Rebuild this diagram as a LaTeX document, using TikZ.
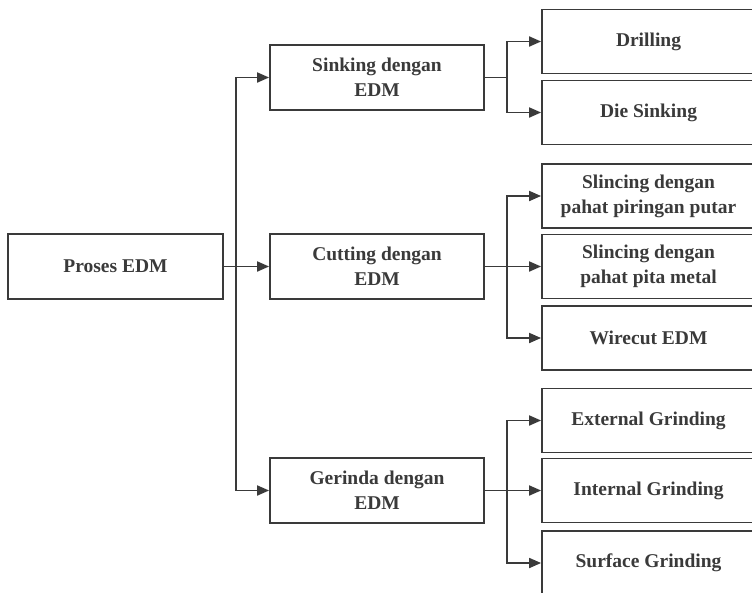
\documentclass[tikz,border=0pt]{standalone}
\usepackage{fontspec}
\setmainfont{Liberation Serif}
\usetikzlibrary{arrows.meta}
\definecolor{edmgray}{RGB}{58,58,58}
\tikzstyle{box} = [draw=edmgray, line width=1.8pt, align=center, inner sep=0pt, text=edmgray, font=\bfseries\fontsize{19.5}{25}\selectfont]
\tikzstyle{mainbox} = [box, minimum width=214pt, minimum height=65pt]
\tikzstyle{leaf} = [box, minimum width=213pt, minimum height=64pt]
\tikzstyle{edmarrow} = [draw=edmgray, line width=1.8pt, -{Triangle[length=12pt,width=10pt]}]

\begin{document}
\begin{tikzpicture}[x=1pt,y=-1pt]
\clip (0,0) rectangle (752,592);

% Root
\node[mainbox, minimum width=215pt] (proses) at (115.5,266.5) {Proses EDM};

% Second level
\node[mainbox] (sinking) at (377,77.5) {Sinking dengan\\EDM};
\node[mainbox] (cutting) at (377,266.5) {Cutting dengan\\EDM};
\node[mainbox] (gerinda) at (377,490.5) {Gerinda dengan\\EDM};

% Leaves
\node[leaf] (drilling) at (648.5,41.5) {Drilling};
\node[leaf] (diesinking) at (648.5,112.5) {Die Sinking};
\node[leaf] (slincingA) at (648.5,196) {Slincing dengan\\pahat piringan putar};
\node[leaf] (slincingB) at (648.5,266.5) {Slincing dengan\\pahat pita metal};
\node[leaf] (wirecut) at (648.5,338) {Wirecut EDM};
\node[leaf] (external) at (648.5,420.5) {External Grinding};
\node[leaf] (internal) at (648.5,490.5) {Internal Grinding};
\node[leaf] (surface) at (648.5,563) {Surface Grinding};

% Trunk
\draw[edmarrow] (proses.east) -- (cutting.west);
\foreach \sub in {sinking,gerinda}
  \draw[edmarrow] (proses.east) -- ++(12,0) |- (\sub.west);

% Branches
\foreach \leaf in {drilling,diesinking}
  \draw[edmarrow] (sinking.east) -- ++(22,0) |- (\leaf.west);
\foreach \leaf in {slincingA,slincingB,wirecut}
  \draw[edmarrow] (cutting.east) -- ++(22,0) |- (\leaf.west);
\foreach \leaf in {external,internal,surface}
  \draw[edmarrow] (gerinda.east) -- ++(22,0) |- (\leaf.west);
\end{tikzpicture}
\end{document}
